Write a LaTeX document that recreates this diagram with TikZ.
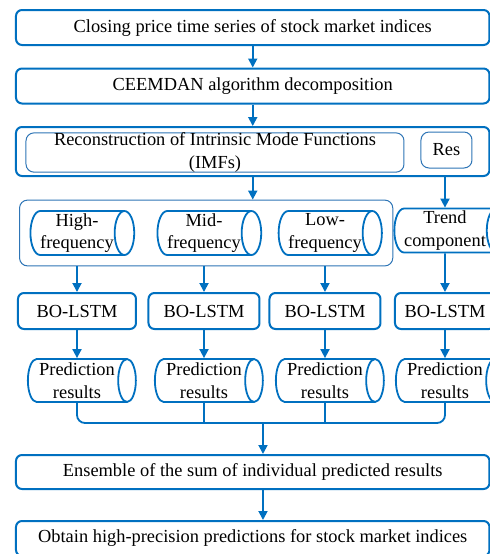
\documentclass[tikz,border=0pt]{standalone}
\usepackage{fontspec}
\setmainfont{Liberation Serif}
\usepackage{tikz}
\usetikzlibrary{arrows.meta,positioning,calc,shapes.geometric,fit}
\definecolor{flow}{HTML}{0070C0}
\definecolor{flowlt}{HTML}{2E75B6}

\begin{document}
\begin{tikzpicture}[x=0.5pt,y=-0.5pt,font=\fontsize{9.2}{11.2}\selectfont,
  bx/.style={draw=flow,line width=1pt,rounded corners=3pt,fill=white,minimum width=236.75pt,minimum height=17.5pt,inner sep=0pt,align=center},
  lstm/.style={bx,minimum width=55.5pt,minimum height=18pt},
  ib/.style={draw=flowlt,line width=0.5pt,rounded corners=4pt,inner sep=0pt,align=center},
  cyl/.style={draw=flow,line width=0.9pt,shape=cylinder,aspect=0.5,inner sep=0pt,minimum height=51.5pt,minimum width=22pt,align=center},
  ln/.style={flow,line width=0.9pt},
  a/.style={ln,-{Triangle[length=4.5pt,width=4.5pt]}}]
\path[use as bounding box,clip] (0,0) rectangle (490,554);
% top of the flow
\node[bx] (close) at (252.75,27.5) {Closing price time series of stock market indices};
\node[bx] (ceem) at (252.75,86) {CEEMDAN algorithm decomposition};
\node[bx,minimum height=24.5pt] (recon) at (252.75,151.5) {};
\node[ib,minimum width=189pt,minimum height=19.5pt] (imf) at (215,152.5) {Reconstruction of Intrinsic Mode Functions\\(IMFs)};
\node[ib,minimum width=25.5pt,minimum height=18pt] (res) at (446.5,150) {Res};
% components
\node[cyl] (high) at (77,233) {High-\\frequency};
\node[cyl] (mid) at (204,233) {Mid-\\frequency};
\node[cyl] (low) at (325,233) {Low-\\frequency};
\node[ib,fit=(high)(low),inner sep=5pt] (grp) {};
\node[cyl] (trend) at (445,230.5) {Trend\\component};
% models
\node[lstm,minimum width=59pt] (bo1) at (77,311) {BO-LSTM};
\node[lstm] (bo2) at (204,311) {BO-LSTM};
\node[lstm] (bo3) at (325,311) {BO-LSTM};
\node[lstm,minimum width=50pt] (bo4) at (445,311) {BO-LSTM};
\foreach \i/\x in {1/77,2/204,3/325,4/445}
  \node[cyl,minimum height=54pt,minimum width=21.5pt] (pr\i) at (\x,380.5) {Prediction\\results};
\coordinate (jn) at (263,423);
\node[bx,minimum height=17pt] (ens) at (252.75,472) {Ensemble of the sum of individual predicted results};
\node[bx] (fin) at (252.75,538.5) {Obtain high-precision predictions for stock market indices};
% connectors
\draw[a] (close) -- (ceem); \draw[a] (ceem) -- (recon);
\draw[a] (recon.south) -- (recon.south |- grp.north);
\draw[a] (trend |- recon.south) -- (trend);
\foreach \c/\b in {high/bo1,mid/bo2,low/bo3} \draw[a] (\c |- grp.south) -- (\b);
\draw[a] (trend) -- (bo4);
\foreach \i in {1,...,4} \draw[a] (bo\i) -- (pr\i);
\draw[ln,rounded corners=4pt] (pr1) |- (jn) -| (pr4);
\draw[ln] (pr2) -- (pr2 |- jn); \draw[ln] (pr3) -- (pr3 |- jn);
\draw[a] (jn) -- (jn |- ens.north);
\draw[a] (jn |- ens.south) -- (jn |- fin.north);
\end{tikzpicture}
\end{document}
